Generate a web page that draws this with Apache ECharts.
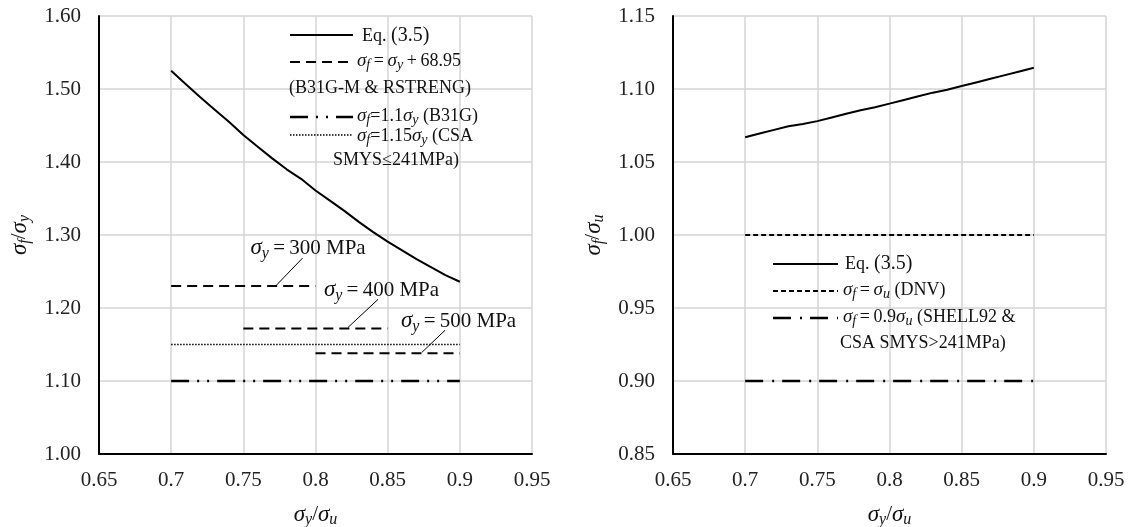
<!DOCTYPE html>
<html><head><meta charset="utf-8">
<script src="https://cdn.jsdelivr.net/npm/echarts@6/dist/echarts.min.js"></script>
<style>html,body{margin:0;padding:0;background:#fff}#c{width:1134px;height:527px}</style>
</head><body><div id="c"></div>
<script>
// ---------- data ----------
const eqX = [0.70,0.71,0.72,0.73,0.74,0.75,0.76,0.77,0.78,0.79,0.80,0.81,0.82,0.83,0.84,0.85,0.86,0.87,0.88,0.89,0.90];
const eqLeftY = [1.525,1.507,1.489,1.472,1.455,1.437,1.421,1.405,1.390,1.377,1.361,1.347,1.333,1.318,1.304,1.291,1.279,1.267,1.256,1.245,1.236];
const eqRightY = [1.067,1.0695,1.072,1.0745,1.076,1.078,1.0805,1.083,1.0855,1.0875,1.090,1.0925,1.095,1.0975,1.0995,1.102,1.1045,1.107,1.1095,1.112,1.1145];
const s300X = [0.70, 0.80]; const s300Y = [1.230, 1.230];
const s400X = [0.75, 0.85]; const s400Y = [1.172, 1.172];
const s500X = [0.80, 0.90]; const s500Y = [1.138, 1.138];
const csaX = [0.70, 0.90]; const csaY = [1.15, 1.15];
const b31gX = [0.70, 0.90]; const b31gY = [1.10, 1.10];
const dnvX = [0.70, 0.90]; const dnvY = [1.00, 1.00];
const shellX = [0.70, 0.90]; const shellY = [0.90, 0.90];
const xMin = 0.65, xMax = 0.95, xStep = 0.05;
const yLeftMin = 1.0, yLeftMax = 1.6, yLeftStep = 0.1;
const yRightMin = 0.85, yRightMax = 1.15, yRightStep = 0.05;

// ---------- helpers ----------
const F = '"Liberation Serif","Times New Roman",serif';
const pts = (xs, ys) => xs.map((x, i) => [x, ys[i]]);
const C = '#111';
function richBase(size, colorKey) {
  const mk = o => Object.assign(o, {[colorKey]: C});
  return {
    s: mk({fontFamily: F, fontStyle: 'italic', fontSize: Math.round(size * 1.08)}),
    b: mk({fontFamily: F, fontStyle: 'italic', fontSize: Math.round(size * 0.78), padding: [Math.round(size * 0.5), 0, 0, 0]}),
    t: mk({fontFamily: F, fontSize: size}),
    m: mk({fontFamily: F, fontSize: Math.round(size * 1.12)})
  };
}
const richE = s => richBase(s, 'color');
const richZ = s => richBase(s, 'fill');
const TS = '\u2009';

const chart = echarts.init(document.getElementById('c'), null, {renderer: 'canvas'});

function xAxis(gi) {
  return {
    type: 'value', gridIndex: gi, min: xMin, max: xMax, interval: xStep,
    name: '{s|σ}{b|y}{t|/}{s|σ}{b|u}', nameLocation: 'middle', nameGap: 47,
    nameTextStyle: {rich: richE(21)},
    axisLine: {show: true, onZero: false, lineStyle: {color: '#000', width: 2}},
    axisTick: {show: false},
    axisLabel: {color: '#222', fontFamily: F, fontSize: 21, margin: 16},
    splitLine: {show: true, lineStyle: {color: '#d4d4d4', width: 1.5}}
  };
}
function yAxis(gi, mn, mx, st, name) {
  return {
    type: 'value', gridIndex: gi, min: mn, max: mx, interval: st,
    name: name, nameLocation: 'middle', nameGap: 66, nameRotate: 90,
    nameTextStyle: {rich: richE(21)},
    axisLine: {show: true, onZero: false, lineStyle: {color: '#000', width: 2}},
    axisTick: {show: false},
    axisLabel: {color: '#222', fontFamily: F, fontSize: 21, margin: 18, formatter: v => v.toFixed(2)},
    splitLine: {show: true, lineStyle: {color: '#d4d4d4', width: 1.5}}
  };
}
function line(name, gi, data, width, type) {
  return {
    name, type: 'line', xAxisIndex: gi, yAxisIndex: gi, data, showSymbol: false, symbol: 'none',
    animation: false, silent: true,
    lineStyle: {color: '#000', width, type}
  };
}

const dashL = [10, 6];
const dashDotDot = [18, 8, 2, 8, 2, 8];
const dotted = [1.5, 1.5];
const dashR = [5, 3];
const dashDot = [18, 9, 2, 8];

chart.setOption({
  animation: false,
  backgroundColor: '#fff',
  grid: [
    {left: 99, top: 16, width: 433, height: 438, containLabel: false, outerBoundsMode: 'none'},
    {left: 673, top: 16, width: 433, height: 438, containLabel: false, outerBoundsMode: 'none'}
  ],
  xAxis: [xAxis(0), xAxis(1)],
  yAxis: [
    yAxis(0, yLeftMin, yLeftMax, yLeftStep, '{s|σ}{b|f}{t|/}{s|σ}{b|y}'),
    yAxis(1, yRightMin, yRightMax, yRightStep, '{s|σ}{b|f}{t|/}{s|σ}{b|u}')
  ],
  series: [
    line('Eq. (3.5)', 0, pts(eqX, eqLeftY), 2, 'solid'),
    line('σy=300 MPa', 0, pts(s300X, s300Y), 2, dashL),
    line('σy=400 MPa', 0, pts(s400X, s400Y), 2, dashL),
    line('σy=500 MPa', 0, pts(s500X, s500Y), 2, dashL),
    line('σf=1.15σy (CSA SMYS≤241MPa)', 0, pts(csaX, csaY), 1.5, dotted),
    line('σf=1.1σy (B31G)', 0, pts(b31gX, b31gY), 2.5, dashDotDot),
    line('Eq. (3.5) ', 1, pts(eqX, eqRightY), 2, 'solid'),
    line('σf=σu (DNV)', 1, pts(dnvX, dnvY), 2, dashR),
    line('σf=0.9σu (SHELL92 & CSA SMYS>241MPa)', 1, pts(shellX, shellY), 2.5, dashDot)
  ]
});

// ---------- legends & annotations (graphic) ----------
const g = [];
function sample(x1, x2, y, w, dash) {
  g.push({type: 'line', shape: {x1, y1: y, x2, y2: y}, style: {stroke: '#000', lineWidth: w, lineDash: dash}, silent: true});
}
function txt(x, y, text, size) {
  g.push({type: 'text', x, y, style: {text, rich: richZ(size), font: size + 'px ' + F, fill: C, verticalAlign: 'middle', align: 'left'}, silent: true});
}
const LS = 18;
const eqTxt = '{t|Eq. }{m|(3.5)}';
// left legend
sample(290, 353, 35, 2, null); txt(362, 36, eqTxt, LS);
sample(290, 353, 62, 2, dashL); txt(357, 61, '{s|σ}{b|f}{t|' + TS + '=' + TS + '}{s|σ}{b|y}{t|' + TS + '+' + TS + '68.95}', LS);
txt(289, 88, '{t|(B31G-M & RSTRENG)}', LS);
sample(290, 353, 117, 2.5, dashDotDot); txt(357, 116, '{s|σ}{b|f}{t|=1.1}{s|σ}{b|y}{t| (B31G)}', LS);
sample(290, 353, 135, 1.5, dotted); txt(357, 136, '{s|σ}{b|f}{t|=1.15}{s|σ}{b|y}{t| (CSA}', LS);
txt(333, 160, '{t|SMYS≤241MPa)}', LS);
// right legend
sample(773, 838, 264, 2, null); txt(845, 264, eqTxt, LS);
sample(773, 838, 291, 2, dashR); txt(843, 290, '{s|σ}{b|f}{t|' + TS + '=' + TS + '}{s|σ}{b|u}{t| (DNV)}', LS);
sample(773, 838, 318, 2.5, dashDot); txt(843, 317, '{s|σ}{b|f}{t|' + TS + '=' + TS + '0.9}{s|σ}{b|u}{t| (SHELL92 &}', LS);
txt(840, 343, '{t|CSA SMYS>241MPa)}', LS);

// annotations anchored to data coordinates
const annots = [
  {at: [0.773, 1.230], up: [26, -28], tx: [-26, -38], label: '{s|σ}{b|y}{t|' + TS + '=' + TS + '300 MPa}'},
  {at: [0.8225, 1.172], up: [30, -29], tx: [-24, -38], label: '{s|σ}{b|y}{t|' + TS + '=' + TS + '400 MPa}'},
  {at: [0.8738, 1.138], up: [23, -23], tx: [-21, -32], label: '{s|σ}{b|y}{t|' + TS + '=' + TS + '500 MPa}'}
];
annots.forEach(a => {
  const p = chart.convertToPixel({gridIndex: 0}, a.at);
  g.push({type: 'line', shape: {x1: p[0], y1: p[1] - 1, x2: p[0] + a.up[0], y2: p[1] + a.up[1]}, style: {stroke: '#000', lineWidth: 1}, silent: true});
  txt(p[0] + a.tx[0], p[1] + a.tx[1], a.label, 21);
});
chart.setOption({graphic: g});
</script></body></html>
